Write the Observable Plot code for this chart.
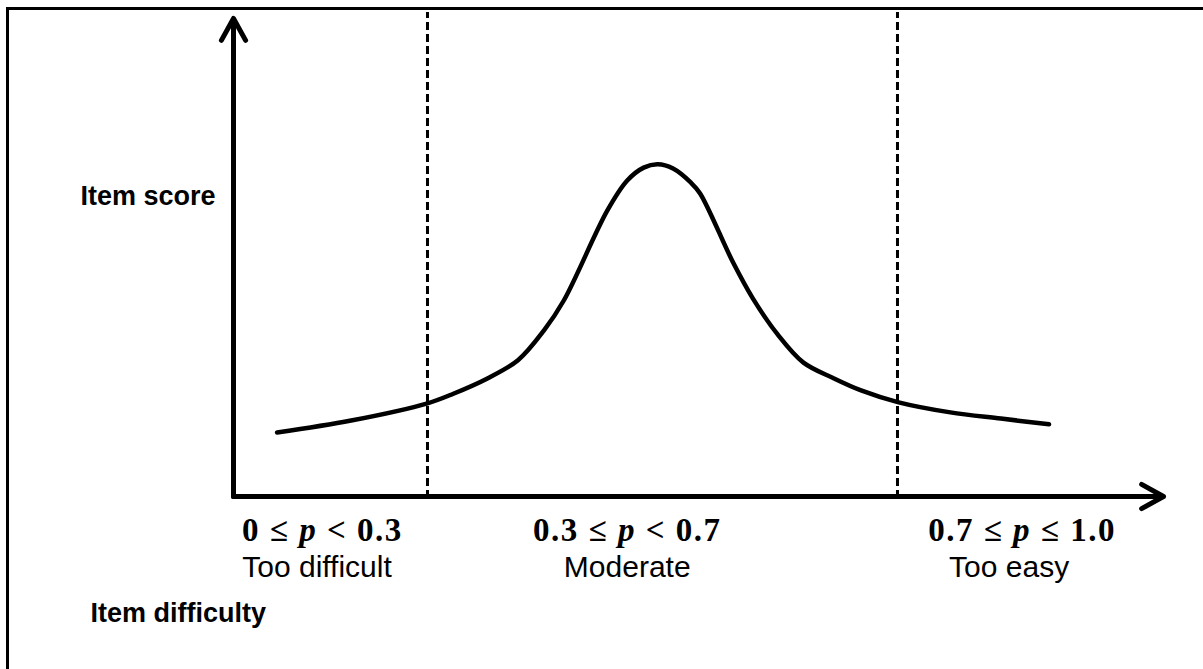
<!DOCTYPE html>
<html><head><meta charset="utf-8">
<script src="https://cdn.jsdelivr.net/npm/d3@7"></script>
<script src="https://cdn.jsdelivr.net/npm/@observablehq/plot@0.6"></script>
<style>
html,body{margin:0;padding:0;background:#fff;color:#000;overflow:hidden;width:1203px;height:669px;}
#wrap{position:relative;width:1203px;height:669px;}
#box{position:absolute;left:6px;top:7px;width:1300px;height:800px;border:3px solid #000;box-sizing:border-box;pointer-events:none;}
#chart{position:absolute;left:0;top:0;}
svg{display:block}
</style></head><body>
<div id="wrap"><div id="box"></div><div id="chart"></div></div>
<script>
// ---- data ----
const cutoffs = [0.3, 0.7];
const rangeLabels = ["0 ≤ p < 0.3", "0.3 ≤ p < 0.7", "0.7 ≤ p ≤ 1.0"];
const categoryNames = ["Too difficult", "Moderate", "Too easy"];
const curveP = [0.172, 0.235, 0.300, 0.322, 0.351, 0.377, 0.399, 0.416, 0.453, 0.470, 0.484, 0.496, 0.509, 0.524, 0.532, 0.560, 0.577, 0.598, 0.620, 0.646, 0.669, 0.701, 0.745, 0.788, 0.829];
const curveScore = [13.4, 15.9, 19.5, 21.5, 24.7, 28.5, 34.7, 41.0, 59.8, 66.1, 68.8, 69.5, 68.6, 65.7, 63.4, 49.0, 41.4, 33.9, 28.0, 24.7, 22.2, 19.7, 17.6, 16.3, 15.1];
const yTitle = "Item score";
const xTitle = "Item difficulty";

// ---- layout ----
const xDomain = [0.1349, 0.9264];
const yDomain = [0, 101.25];
const yArrowTop = 100;
const mathX = [0.2106, 0.470, 0.806];
const nameX = [0.206, 0.470, 0.795];

const curve = curveP.map((p, i) => ({p, score: curveScore[i]}));
const axes = [
  {x1: xDomain[0], y1: 0, x2: xDomain[0], y2: yArrowTop},
  {x1: xDomain[0], y1: 0, x2: xDomain[1], y2: 0}
];

const chart = Plot.plot({
  width: 1203, height: 669,
  marginLeft: 233, marginRight: 40, marginTop: 12, marginBottom: 173,
  x: {domain: xDomain, axis: null},
  y: {domain: yDomain, axis: null},
  style: {background: "transparent", overflow: "visible", color: "#000"},
  marks: [
    Plot.ruleX(cutoffs, {stroke: "#000", strokeWidth: 3, strokeDasharray: "8,4", y1: -0.4, y2: yDomain[1]}),
    Plot.line(curve, {x: "p", y: "score", curve: "catmull-rom", stroke: "#000", strokeWidth: 4.5}),
    Plot.arrow(axes, {x1: "x1", y1: "y1", x2: "x2", y2: "y2", stroke: "#000", strokeWidth: 5, headLength: 7.5, headAngle: 58, strokeLinecap: "round", strokeLinejoin: "round"}),
    Plot.text(rangeLabels, {x: (d, i) => mathX[i], text: d => d, frameAnchor: "bottom", dy: 44, fontFamily: "Liberation Serif", fontWeight: "bold", fontSize: 33, fill: "#000"}),
    Plot.text(categoryNames, {x: (d, i) => nameX[i], text: d => d, frameAnchor: "bottom", dy: 80, fontFamily: "Liberation Sans", fontSize: 30, fill: "#000"}),
    Plot.text([yTitle], {x: () => xDomain[0], text: d => d, frameAnchor: "top", dy: 173, dx: -18, textAnchor: "end", fontFamily: "Liberation Sans", fontWeight: "bold", fontSize: 27, fill: "#000"}),
    Plot.text([xTitle], {x: () => xDomain[0], text: d => d, frameAnchor: "bottom", dy: 125, dx: -143, textAnchor: "start", fontFamily: "Liberation Sans", fontWeight: "bold", fontSize: 27, fill: "#000"})
  ]
});
document.getElementById("chart").appendChild(chart);

// italic p and letter spacing in the range labels
const svgns = "http://www.w3.org/2000/svg";
chart.querySelectorAll("text").forEach(t => {
  const s = t.textContent;
  if (s.includes("≤")) {
    t.setAttribute("letter-spacing", "1.5");
    const parts = s.split("p");
    t.textContent = "";
    parts.forEach((part, i) => {
      if (i > 0) {
        const ts = document.createElementNS(svgns, "tspan");
        ts.setAttribute("font-style", "italic");
        ts.textContent = "p";
        t.appendChild(ts);
      }
      t.appendChild(document.createTextNode(part));
    });
  }
});
</script>
</body></html>
